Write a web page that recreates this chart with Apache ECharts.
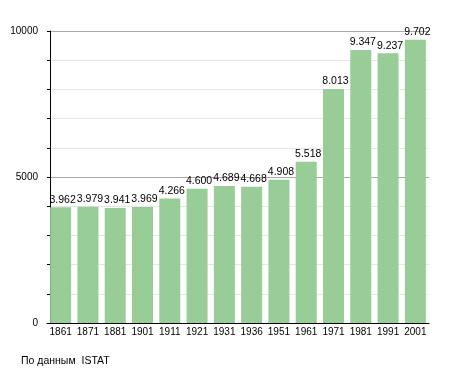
<!DOCTYPE html>
<html><head><meta charset="utf-8">
<script src="https://cdn.jsdelivr.net/npm/echarts@6/dist/echarts.min.js"></script>
<style>html,body{margin:0;padding:0;background:#fff}#c{width:455px;height:373px}</style>
</head><body><div id="c"></div>
<script>
const years = ['1861','1871','1881','1901','1911','1921','1931','1936','1951','1961','1971','1981','1991','2001'];
const population = [3962,3979,3941,3969,4266,4600,4689,4668,4908,5518,8013,9347,9237,9702];
const yMajorLabels = [0,5000,10000];
const sourceText = 'По данным  ISTAT';

function fmt(v){ return String(v).replace(/\B(?=(\d{3})+(?!\d))/g,'.'); }

const chart = echarts.init(document.getElementById('c'), null, {renderer:'canvas'});
chart.setOption({
  animation:false,
  textStyle:{fontFamily:'Liberation Sans, Arial, sans-serif'},
  grid:{left:47,right:26,top:31,bottom:50,containLabel:false},
  graphic:[{type:'text',left:21,top:356,style:{text:sourceText,fill:'#000',font:'10.5px Liberation Sans, Arial, sans-serif'}}],
  xAxis:{type:'category',data:years,
    axisLine:{lineStyle:{color:'#000',width:1}},
    axisTick:{show:false},
    axisLabel:{color:'#000',fontSize:10,margin:4,interval:0}
  },
  yAxis:{type:'value',min:0,max:10000,interval:1000,offset:-3,
    axisLine:{show:true,lineStyle:{color:'#000',width:1}},
    axisTick:{show:true,length:3,lineStyle:{color:'#000'}},
    axisLabel:{color:'#000',fontSize:10,margin:12,
      formatter:function(v){return yMajorLabels.indexOf(v)>=0?String(v):'';}},
    splitLine:{show:true,lineStyle:{color:['#aaaaaa','#e6e6e6','#e6e6e6','#e6e6e6','#e6e6e6'],width:1}}
  },
  series:[{type:'bar',data:population,barCategoryGap:'23%',
    itemStyle:{color:'#98cd98'},
    label:{show:true,position:'top',distance:2,offset:[2,0],color:'#000',fontSize:10.5,
      formatter:function(p){return fmt(p.value);}}
  }]
});
</script></body></html>
